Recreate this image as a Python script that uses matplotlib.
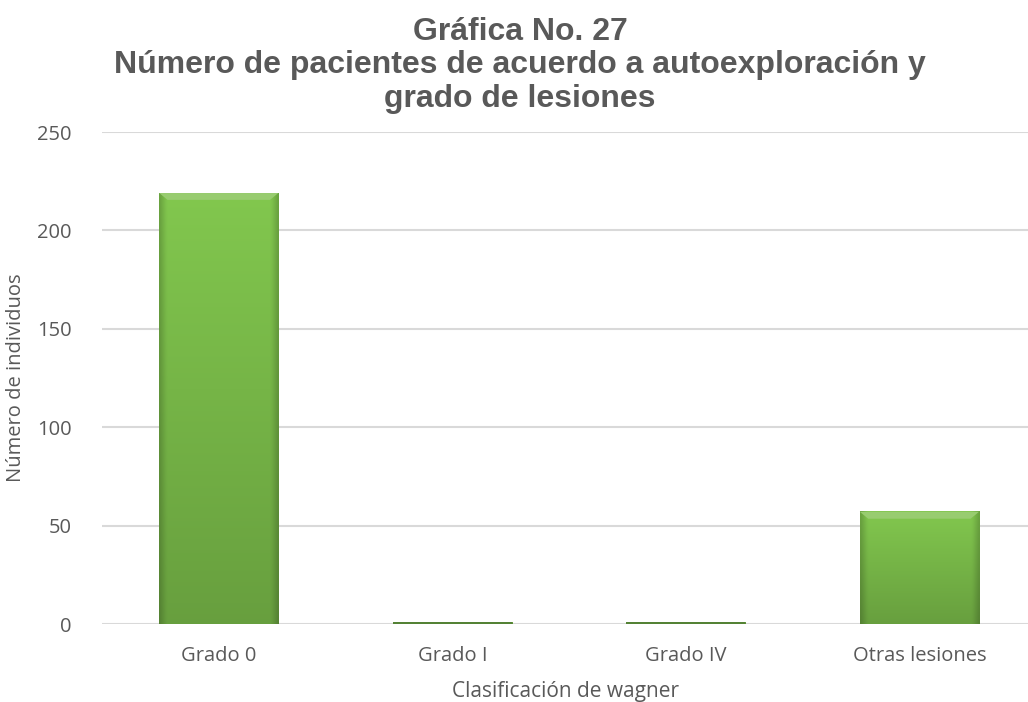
import numpy as np
import matplotlib
matplotlib.use("Agg")
import matplotlib.pyplot as plt
from matplotlib.colors import to_rgb

categorias = ["Grado 0", "Grado I", "Grado IV", "Otras lesiones"]
pacientes = [219, 1, 1, 57]
titulo = ["Gráfica No. 27",
          "Número de pacientes de acuerdo a autoexploración y",
          "grado de lesiones"]

GRIS = "#595959"
VERDE = "#76b547"

fig = plt.figure(figsize=(10.28, 7.02), dpi=100)
ax = fig.add_axes([102 / 1028, 1 - 624 / 702, 1 - 102 / 1028, (624 - 132) / 702])

x = np.arange(len(categorias))
ancho = 0.51
barras = ax.bar(x, pacientes, width=ancho, color=VERDE, zorder=2)

# degradado tipo Excel: más claro arriba, bordes laterales oscuros
base = np.array(to_rgb(VERDE))
ny, nx = 100, 60
vy = np.linspace(1.10, 0.88, ny)[:, None, None]
hx = np.linspace(0, 1, nx)
borde = 1 - 0.18 * np.clip(1 - np.minimum(hx, 1 - hx) / 0.06, 0, 1)
img = np.clip(base[None, None, :] * vy * borde[None, :, None], 0, 1)
for b in barras:
    x0, y0 = b.get_x(), b.get_y()
    w, h = b.get_width(), b.get_height()
    ax.imshow(img, extent=(x0, x0 + w, y0, y0 + h), aspect="auto",
              origin="upper", zorder=3, interpolation="bilinear")
    if h > 5:
        # bisel superior
        bis = 3.5
        dx = w * 0.07
        ax.fill([x0, x0 + w, x0 + w - dx, x0 + dx], [h, h, h - bis, h - bis],
                color="#98cc70", zorder=4, lw=0)
    else:
        ax.bar(b.get_x() + w / 2, h, width=w, color="#548235", zorder=4)

ax.set_ylim(0, 250)
ax.set_yticks([0, 50, 100, 150, 200, 250])
ax.yaxis.grid(True, color="#d9d9d9", lw=1.5, zorder=0)
ax.set_axisbelow(True)
for s in ax.spines.values():
    s.set_visible(False)
ax.tick_params(length=0, colors=GRIS, labelsize=14.5)
ax.tick_params(axis="y", pad=22)
ax.tick_params(axis="x", pad=16)
ax.set_xticks(x)
ax.set_xticklabels(categorias)
for t in ax.get_xticklabels() + ax.get_yticklabels():
    t.set_family("Open Sans")

ax.set_ylabel("Número de individuos", color=GRIS, fontsize=14.5, family="Open Sans", labelpad=8)
ax.set_xlabel("Clasificación de wagner", color=GRIS, fontsize=15, family="Open Sans", labelpad=11)
ax.set_xlim(-0.5, 3.465)

# título en tres líneas
for txt, yb in zip(titulo, [40, 73, 107]):
    fig.text(520 / 1028, 1 - yb / 702, txt, ha="center", va="baseline",
             fontsize=23, fontweight="bold", color=GRIS, family="Liberation Sans")

fig.savefig("out.png", dpi=100)
